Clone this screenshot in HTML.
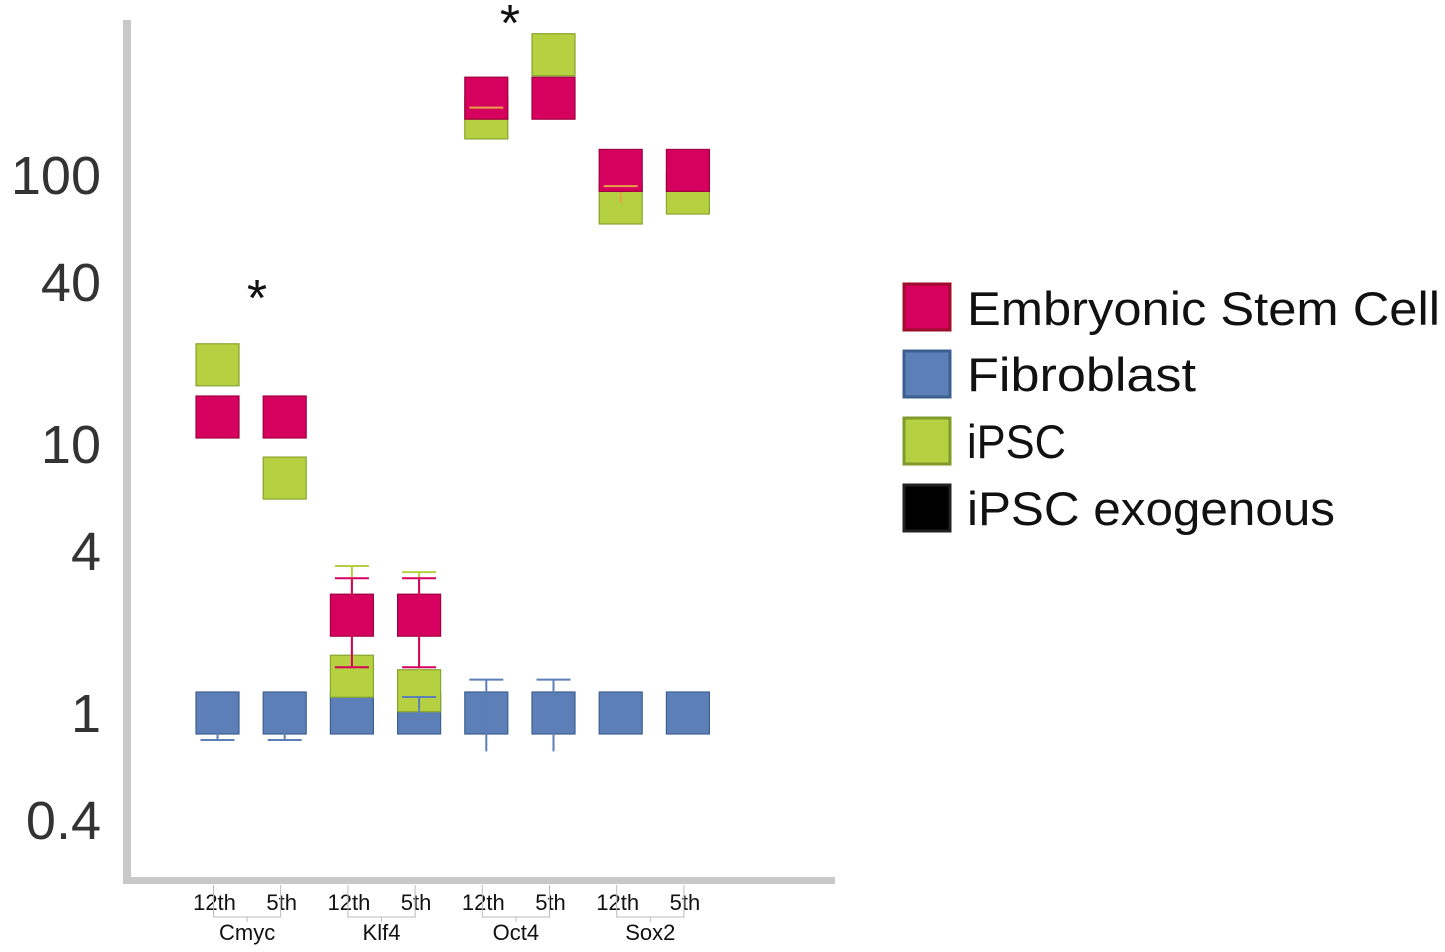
<!DOCTYPE html>
<html><head><meta charset="utf-8"><style>
html,body{margin:0;padding:0;background:#fff;}
svg{display:block;font-family:"Liberation Sans",sans-serif;}
</style></head><body>
<svg id="chart" width="1445" height="952" viewBox="0 0 1445 952">
<rect x="123" y="20" width="8" height="864" fill="#c8c8c8"/>
<rect x="123" y="877" width="712" height="7" fill="#c8c8c8"/>
<g id="yticks"></g>
<g id="marks"></g>
<g id="xlabels"></g>
<text x="257" y="316" font-size="52" text-anchor="middle" fill="#111">*</text>
<text x="510" y="41" font-size="52" text-anchor="middle" fill="#111">*</text>
<g>
<rect x="904" y="284" width="46" height="46" fill="#d6005e" stroke="#9e0d2a" stroke-width="3"/>
<text x="967" y="325" font-size="47" textLength="473" lengthAdjust="spacingAndGlyphs" fill="#111">Embryonic Stem Cell</text>
<rect x="904" y="351" width="46" height="46" fill="#5b7fb6" stroke="#3c5f91" stroke-width="3"/>
<text x="967" y="391" font-size="47" textLength="229" lengthAdjust="spacingAndGlyphs" fill="#111">Fibroblast</text>
<rect x="904" y="418" width="46" height="46" fill="#b5d040" stroke="#7f9a2a" stroke-width="3"/>
<text x="967" y="458" font-size="47" textLength="99" lengthAdjust="spacingAndGlyphs" fill="#111">iPSC</text>
<rect x="904" y="485" width="46" height="46" fill="#000" stroke="#222" stroke-width="3"/>
<text x="967" y="525" font-size="47" textLength="368" lengthAdjust="spacingAndGlyphs" fill="#111">iPSC exogenous</text>
</g>
</svg>
<script>
const NS="http://www.w3.org/2000/svg";
const categories=["Cmyc 12th","Cmyc 5th","Klf4 12th","Klf4 5th","Oct4 12th","Oct4 5th","Sox2 12th","Sox2 5th"];
const passages=["12th","5th","12th","5th","12th","5th","12th","5th"];
const genes=["Cmyc","Klf4","Oct4","Sox2"];
const fibroblast=[1,1,1,1,1,1,1,1];
const ipsc=[19.7,7.47,1.37,1.21,163,280,78.7,85.7];
const esc=[12.6,12.6,2.31,2.31,193,193,104,104];
const fibroErr=[[1,0.794],[1,0.794],[null,null],[1.147,null],[1.33,0.72],[1.33,0.72],[null,null],[null,null]];
const ipscErr=[[null,null],[null,null],[3.52,null],[3.34,null],[178,null],[null,null],[90.9,null],[null,null]];
const escErr=[[null,null],[null,null],[3.17,1.48],[3.17,1.48],[null,null],[null,null],[null,null],[null,null]];
const yTicks=[0.4,1,4,10,40,100];
const yTickLabels=["0.4","1","4","10","40","100"];

function yS(v){return 713-269*Math.log10(v);}
function xS(i){return 217.5+i*67.2;}
const BW=43,BH=42;
function mk(t,a,p){const e=document.createElementNS(NS,t);for(const k in a)e.setAttribute(k,a[k]);p.appendChild(e);return e;}
const yt=document.getElementById('yticks');
yTicks.forEach((v,i)=>{
 const t=mk('text',{x:101,y:yS(v)+19,'font-size':54,'text-anchor':'end',fill:'#333'},yt);
 t.textContent=yTickLabels[i];
 
 
});
const marks=document.getElementById('marks');
function boxes(arr,fill,stroke,name){
 arr.forEach((v,i)=>{
  const r=mk('rect',{x:xS(i)-BW/2,y:yS(v)-BH/2,width:BW,height:BH,fill:fill,stroke:stroke,'stroke-width':1.2},marks);
  
  
 });
}
function errs(set,vals,colorFn,part,lowNoCap){
 set.forEach((pair,i)=>{
  const c=yS(vals[i]),x=xS(i);
  pair.forEach((v,j)=>{
   if(v===null)return;
   const y=yS(v),col=colorFn(i);
   if(part!=='cap'){
    const l=mk('line',{x1:x,x2:x,y1:c,y2:y,stroke:col,'stroke-width':2},marks);
    
    
   }
   if(part!=='stem' && !(lowNoCap && j===1 && i>=4)){
    const cap=mk('line',{x1:x-17,x2:x+17,y1:y,y2:y,stroke:col,'stroke-width':2},marks);
    
    
   }
  });
 });
}
const ipscCol=i=>i>=4?'#e8a14a':'#b5d040';
boxes(fibroblast,'#5b7fb6','#3c5f91','fibroblast');
boxes(ipsc,'#b5d040','#86a52d','ipsc');
errs(ipscErr,ipsc,ipscCol,'stem',false);
boxes(esc,'#d6005e','#a0003f','esc');
errs(ipscErr,ipsc,ipscCol,'cap',false);
errs(escErr,esc,()=>'#d6005e','both',false);
errs(fibroErr,fibroblast,()=>'#5b7fb6','both',true);

const xl=document.getElementById('xlabels');
passages.forEach((p,i)=>{
 const t=mk('text',{x:xS(i)-3,y:910,'font-size':22,'text-anchor':'middle',fill:'#111'},xl);
 t.textContent=p;
 
 
});
genes.forEach((g,k)=>{
 const a=xS(2*k)-4,b=xS(2*k+1)-4,m=(a+b)/2;
 const br=mk('path',{d:`M${a} 885V917H${b}V885M${m} 917V922`,stroke:'#bbb','stroke-width':1,fill:'none'},xl);
 
 
 const t=mk('text',{x:m,y:940,'font-size':22,'text-anchor':'middle',fill:'#111'},xl);
 t.textContent=g;
 
 
});
</script>
</body></html>
